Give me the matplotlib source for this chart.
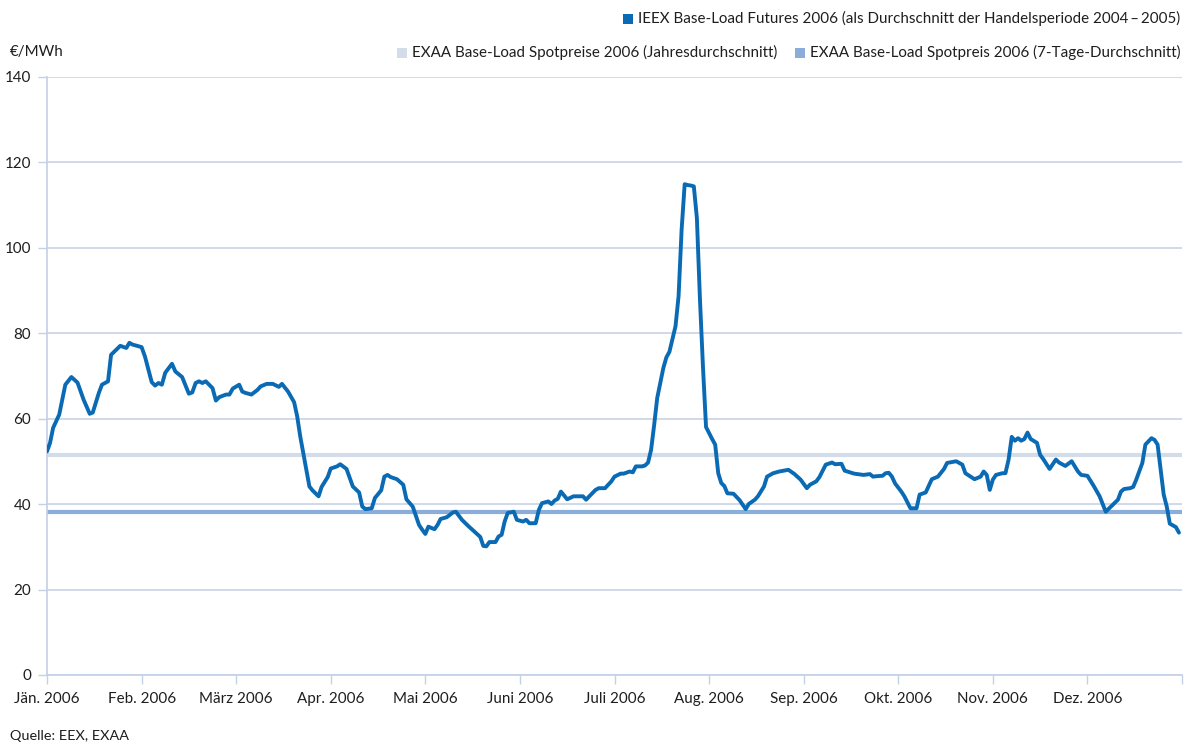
import calendar
import matplotlib
matplotlib.use("Agg")
import matplotlib.pyplot as plt
from matplotlib.patches import Rectangle

plt.rcParams['font.family'] = ['Lato', 'DejaVu Sans']

# ---------------- data ----------------
month_labels = ["Jän. 2006", "Feb. 2006", "März 2006", "Apr. 2006", "Mai 2006",
                "Juni 2006", "Juli 2006", "Aug. 2006", "Sep. 2006", "Okt. 2006",
                "Nov. 2006", "Dez. 2006"]
y_ticks = [0, 20, 40, 60, 80, 100, 120, 140]

dates = [
    "01-01", "01-02", "01-03", "01-05", "01-07", "01-09", "01-11", "01-13", "01-15", "01-16",
    "01-18", "01-19", "01-21", "01-22", "01-25", "01-27", "01-28", "01-29",
    "02-01", "02-02", "02-04", "02-05", "02-06", "02-07", "02-08", "02-10", "02-11", "02-13",
    "02-15", "02-16", "02-17", "02-18", "02-19", "02-20", "02-22", "02-23", "02-24", "02-26",
    "02-27", "02-28",
    "03-02", "03-03", "03-04", "03-06", "03-08", "03-09", "03-11", "03-13", "03-15", "03-16",
    "03-18", "03-20", "03-21", "03-22", "03-24", "03-25", "03-26", "03-28", "03-29", "03-31",
    "04-01", "04-03", "04-04", "04-06", "04-08", "04-10", "04-11", "04-12", "04-14", "04-15",
    "04-17", "04-18", "04-19", "04-20", "04-22", "04-24", "04-25", "04-27", "04-29", "04-30",
    "05-01", "05-02", "05-04", "05-05", "05-06", "05-08", "05-10", "05-11", "05-13", "05-15",
    "05-17", "05-19", "05-20", "05-21", "05-22", "05-24", "05-25", "05-26", "05-27", "05-28",
    "05-30", "05-31",
    "06-02", "06-03", "06-04", "06-06", "06-07", "06-08", "06-10", "06-11", "06-12", "06-13",
    "06-14", "06-16", "06-18", "06-21", "06-22", "06-23", "06-25", "06-26", "06-28", "06-30",
    "07-01", "07-03", "07-04", "07-06", "07-07", "07-08", "07-10", "07-11", "07-12", "07-13",
    "07-14", "07-15", "07-17", "07-18", "07-19", "07-21", "07-22", "07-23", "07-24", "07-25",
    "07-26", "07-27", "07-28", "07-29", "07-30", "07-31",
    "08-02", "08-03", "08-04", "08-05", "08-06", "08-07", "08-09", "08-11", "08-13", "08-14",
    "08-16", "08-17", "08-19", "08-20", "08-22", "08-24", "08-27", "08-29", "08-31",
    "09-02", "09-03", "09-05", "09-06", "09-08", "09-10", "09-11", "09-13", "09-14", "09-17",
    "09-20", "09-22", "09-23", "09-24", "09-26", "09-27", "09-28", "09-29", "09-30",
    "10-02", "10-03", "10-05", "10-07", "10-08", "10-10", "10-12", "10-14", "10-16", "10-17",
    "10-20", "10-22", "10-23", "10-26", "10-28", "10-29", "10-30", "10-31",
    "11-01", "11-02", "11-04", "11-05", "11-06", "11-07", "11-08", "11-09", "11-10", "11-11",
    "11-12", "11-13", "11-15", "11-16", "11-17", "11-19", "11-21", "11-22", "11-24", "11-26",
    "11-28", "11-29",
    "12-01", "12-03", "12-05", "12-07", "12-09", "12-11", "12-12", "12-13", "12-15", "12-16",
    "12-17", "12-19", "12-20", "12-22", "12-23", "12-24", "12-26", "12-27", "12-28", "12-30",
    "12-31",
]

spot_7day = [
    52.3, 54.3, 57.8, 60.9, 67.9, 69.7, 68.4, 64.4, 61.1, 61.4,
    66.0, 67.9, 68.7, 74.9, 77.0, 76.5, 77.7, 77.3,
    76.7, 74.5, 68.5, 67.7, 68.3, 67.9, 70.7, 72.8, 71.0, 69.7,
    65.8, 66.1, 68.3, 68.7, 68.3, 68.7, 67.1, 64.2, 65.0, 65.6,
    65.6, 67.0,
    67.9, 66.3, 66.0, 65.6, 66.7, 67.5, 68.1, 68.1, 67.4, 68.1,
    66.3, 63.8, 60.5, 55.8, 48.0, 44.1, 43.2, 41.8, 44.0, 46.3,
    48.3, 48.8, 49.3, 48.2, 44.1, 42.7, 39.4, 38.8, 39.0, 41.4,
    43.2, 46.4, 46.8, 46.3, 45.8, 44.5, 41.1, 39.4, 35.1, 34.0,
    33.0, 34.7, 34.1, 35.1, 36.5, 36.9, 38.0, 38.2, 36.3, 34.9,
    33.6, 32.3, 30.2, 30.1, 31.1, 31.1, 32.4, 32.8, 35.9, 37.9,
    38.2, 36.3,
    35.9, 36.3, 35.5, 35.5, 38.6, 40.2, 40.6, 40.0, 40.8, 41.2,
    42.9, 41.1, 41.8, 41.8, 41.0, 41.8, 43.3, 43.7, 43.7, 45.3,
    46.4, 47.1, 47.1, 47.6, 47.4, 48.8, 48.8, 49.0, 49.7, 52.7,
    58.5, 64.8, 71.8, 74.3, 75.6, 81.6, 88.6, 104.2, 114.8, 114.6,
    114.5, 114.3, 106.9, 88.0, 72.0, 58.0,
    55.2, 53.9, 47.2, 44.9, 44.2, 42.5, 42.4, 40.9, 38.8, 40.0,
    41.0, 41.8, 44.1, 46.4, 47.2, 47.6, 48.0, 47.0, 45.7,
    43.7, 44.5, 45.3, 46.3, 49.2, 49.7, 49.3, 49.4, 47.8, 47.1,
    46.8, 47.0, 46.4, 46.5, 46.6, 47.2, 47.3, 46.4, 44.8,
    42.9, 41.8, 39.0, 39.0, 42.2, 42.7, 45.8, 46.4, 48.2, 49.6,
    50.0, 49.2, 47.2, 45.8, 46.4, 47.6, 46.8, 43.3,
    45.7, 46.8, 47.2, 47.2, 50.4, 55.7, 54.8, 55.4, 54.8, 55.2,
    56.7, 55.2, 54.3, 51.5, 50.5, 48.2, 50.4, 49.7, 48.9, 50.0,
    47.6, 46.8,
    46.6, 44.3, 41.8, 38.2, 39.6, 41.0, 42.9, 43.5, 43.7, 44.0,
    45.7, 49.6, 53.9, 55.4, 55.0, 53.9, 42.2, 39.4, 35.4, 34.6,
    33.3,
]

spot_annual_avg = 51.5
futures_avg = 38.2

legend_labels = [
    "IEEX Base-Load Futures 2006 (als Durchschnitt der Handelsperiode 2004\u2009\u2013\u20092005)",
    "EXAA Base-Load Spotpreise 2006 (Jahresdurchschnitt)",
    "EXAA Base-Load Spotpreis 2006 (7-Tage-Durchschnitt)",
]
unit_label = "€/MWh"
source_label = "Quelle: EEX, EXAA"

# ---------------- styling ----------------
C_DARK = "#0a6ab4"
C_LIGHT = "#d3dce9"
C_MED = "#8badd9"
C_GRID = "#c3d0e5"
C_TEXT = "#1e1e1e"
FS = 10.9

W, H = 1190, 744


def month_pos(s):
    m, d = map(int, s.split("-"))
    n = calendar.monthrange(2006, m)[1]
    return (m - 1) + (d - 1) / n


x = [month_pos(s) for s in dates]

fig = plt.figure(figsize=(W / 100, H / 100), dpi=100)
ax = fig.add_axes([47 / W, (H - 675) / H, (1182 - 47) / W, (675 - 76.5) / H])

ax.set_xlim(0, 12)
ax.set_ylim(0, 140)
ax.set_yticks(y_ticks)
ax.set_xticks(range(13))
ax.set_xticklabels(month_labels + [""])
ax.yaxis.grid(True, color=C_GRID, lw=1.1)
ax.set_axisbelow(True)
for side in ("top", "right"):
    ax.spines[side].set_visible(False)
for side in ("left", "bottom"):
    ax.spines[side].set_color(C_GRID)
    ax.spines[side].set_linewidth(1.2)
ax.tick_params(axis="both", direction="out", length=6.5, width=1.0, color=C_GRID,
               labelsize=FS, labelcolor=C_TEXT)
ax.tick_params(axis="y", pad=5)
ax.tick_params(axis="x", pad=6)

ax.axhline(spot_annual_avg, color=C_LIGHT, lw=3.0, zorder=2)
ax.axhline(futures_avg, color=C_MED, lw=3.0, zorder=2)
ax.plot(x, spot_7day, color=C_DARK, lw=2.8, zorder=3, solid_joinstyle="round",
        solid_capstyle="round")

fig.text(10 / W, 1 - 52 / H, unit_label, ha="left", va="center", fontsize=FS, color=C_TEXT)
fig.text(10 / W, 1 - 736 / H, source_label, ha="left", va="center", fontsize=FS - 0.5,
         color=C_TEXT)

# legend (manual)
t1 = fig.text(1180 / W, 1 - 18 / H, legend_labels[0], ha="right", va="center",
              fontsize=FS, color=C_TEXT)
t3 = fig.text(1180 / W, 1 - 52 / H, legend_labels[2], ha="right", va="center",
              fontsize=FS, color=C_TEXT)
fig.canvas.draw()
r = fig.canvas.get_renderer()

SQ = 10
GAP = 5


def add_marker(text_obj, color):
    bb = text_obj.get_window_extent(renderer=r)
    x0 = bb.x0 - GAP - SQ
    yc = (bb.y0 + bb.y1) / 2 - 1
    fig.patches.append(Rectangle((x0 / W, (yc - SQ / 2) / H), SQ / W, SQ / H,
                                 transform=fig.transFigure, facecolor=color,
                                 edgecolor="none"))
    return x0


add_marker(t1, C_DARK)
m3 = add_marker(t3, C_MED)
t2 = fig.text((m3 - 17) / W, 1 - 52 / H, legend_labels[1], ha="right", va="center",
              fontsize=FS, color=C_TEXT)
fig.canvas.draw()
add_marker(t2, C_LIGHT)

fig.savefig("out.png", dpi=100)
